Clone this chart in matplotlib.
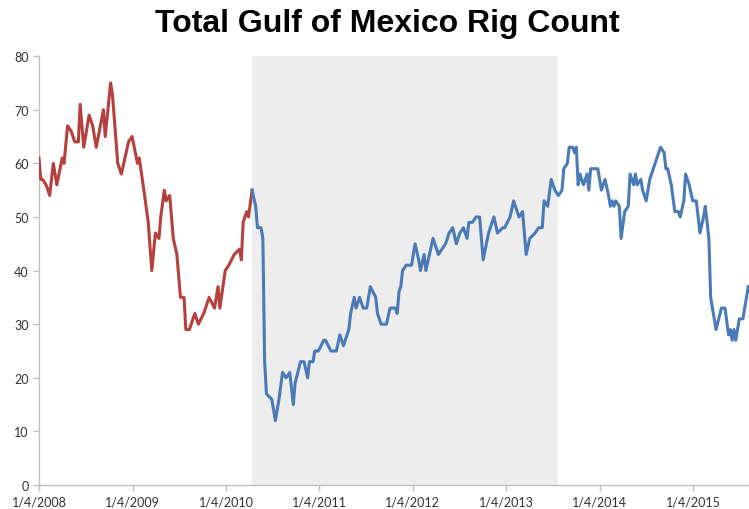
import matplotlib
matplotlib.use("Agg")
import matplotlib.pyplot as plt
import pandas as pd

START = pd.Timestamp("2008-01-04")

# weekly rig counts, keyed by week number since 1/4/2008
red_weeks = [0, 1, 2, 4, 6, 8, 10, 13, 14, 16,
             18, 20, 22, 23, 25, 28, 30, 32, 36, 37,
             40, 41, 44, 46, 50, 52, 55, 56, 59, 61,
             63, 65, 67, 68, 70, 71, 73, 75, 77, 79,
             81, 82, 84, 87, 89, 92, 95, 98, 100, 101,
             104, 106, 109, 112, 113, 114, 116, 117, 119]
red_counts = [61, 57, 57, 56, 54, 60, 56, 61, 60, 67,
              66, 64, 64, 71, 63, 69, 67, 63, 70, 65,
              75, 73, 60, 58, 64, 65, 60, 61, 54, 49,
              40, 47, 46, 50, 55, 53, 54, 46, 43, 35,
              35, 29, 29, 32, 30, 32, 35, 33, 37, 33,
              40, 41, 43, 44, 42, 49, 51, 50, 55]

blue_weeks = [119, 121, 122, 124, 125, 126, 127, 130, 132, 134,
              136, 138, 140, 142, 143, 146, 147, 148, 150, 151,
              153, 154, 156, 159, 160, 163, 166, 168, 169, 170,
              173, 174, 176, 177, 179, 181, 183, 185, 188, 189,
              191, 194, 196, 199, 200, 201, 202, 203, 205, 208,
              210, 212, 213, 215, 216, 218, 220, 223, 225, 227,
              229, 231, 233, 235, 237, 239, 240, 242, 244, 246,
              248, 251, 254, 256, 259, 260, 263, 265, 268, 270,
              272, 274, 277, 279, 281, 282, 284, 286, 288, 290,
              292, 293, 295, 296, 298, 299, 300, 301, 302, 304,
              306, 307, 308, 311, 312, 314, 316, 318, 319, 320,
              321, 322, 324, 325, 327, 329, 330, 332, 333, 334,
              336, 337, 339, 341, 343, 344, 347, 349, 350, 351,
              353, 355, 357, 358, 360, 361, 363, 365, 367, 369,
              371, 372, 373, 374, 375, 378, 381, 383, 385, 386,
              387, 388, 389, 391, 393, 396]
blue_counts = [55, 52, 48, 48, 46, 23, 17, 16, 12, 16,
               21, 20, 21, 15, 19, 23, 23, 23, 20, 23,
               23, 25, 25, 27, 27, 25, 25, 28, 27, 26,
               29, 32, 35, 33, 35, 33, 33, 37, 35, 32,
               30, 30, 33, 33, 32, 36, 37, 40, 41, 41,
               45, 42, 40, 43, 40, 43, 46, 43, 44, 45,
               47, 48, 45, 47, 48, 46, 49, 49, 50, 50,
               42, 47, 50, 47, 48, 48, 50, 53, 50, 51,
               43, 46, 47, 48, 48, 53, 52, 57, 55, 54,
               55, 59, 60, 63, 63, 62, 63, 56, 58, 56,
               58, 55, 59, 59, 59, 55, 57, 54, 52, 53,
               52, 53, 52, 46, 51, 52, 58, 56, 58, 56,
               57, 55, 53, 57, 59, 60, 63, 62, 59, 59,
               56, 51, 51, 50, 53, 58, 56, 53, 53, 47,
               50, 52, 49, 46, 35, 29, 33, 33, 28, 29,
               27, 29, 27, 31, 31, 37]

shade_weeks = (119, 290)
tick_years = [2008, 2009, 2010, 2011, 2012, 2013, 2014, 2015]
y_ticks = [0, 10, 20, 30, 40, 50, 60, 70, 80]


def week_dates(weeks):
    return START + pd.to_timedelta([w * 7 for w in weeks], unit="D")


fig = plt.figure(figsize=(7.49, 5.10), dpi=100)
ax = fig.add_axes([0.052, 0.047, 0.948, 0.841])

ax.axvspan(week_dates([shade_weeks[0]])[0], week_dates([shade_weeks[1]])[0],
           color="#ededed", lw=0, zorder=0)
ax.plot(week_dates(red_weeks), red_counts, color="#b5403e", lw=2.2, zorder=3)
ax.plot(week_dates(blue_weeks), blue_counts, color="#4a7ab8", lw=2.2, zorder=3)

ax.set_ylim(0, 80)
ax.set_xlim(START, week_dates([396.4])[0])
ax.set_yticks(y_ticks)
ticks = [pd.Timestamp(f"{y}-01-04") for y in tick_years]
ax.set_xticks(ticks)
ax.set_xticklabels([f"1/4/{y}" for y in tick_years])

for side in ("top", "right"):
    ax.spines[side].set_visible(False)
for side in ("left", "bottom"):
    ax.spines[side].set_color("#bfbfbf")
    ax.spines[side].set_linewidth(1.0)
ax.tick_params(axis="both", colors="#bfbfbf", length=4, width=1,
               labelcolor="#333333", labelsize=9)
for lbl in ax.get_xticklabels() + ax.get_yticklabels():
    lbl.set_family("Lato")

fig.text(0.517, 0.953, "Total Gulf of Mexico Rig Count", ha="center", va="center",
         fontsize=23, fontweight="bold", family="Liberation Sans")

fig.savefig("out.png", dpi=100)
